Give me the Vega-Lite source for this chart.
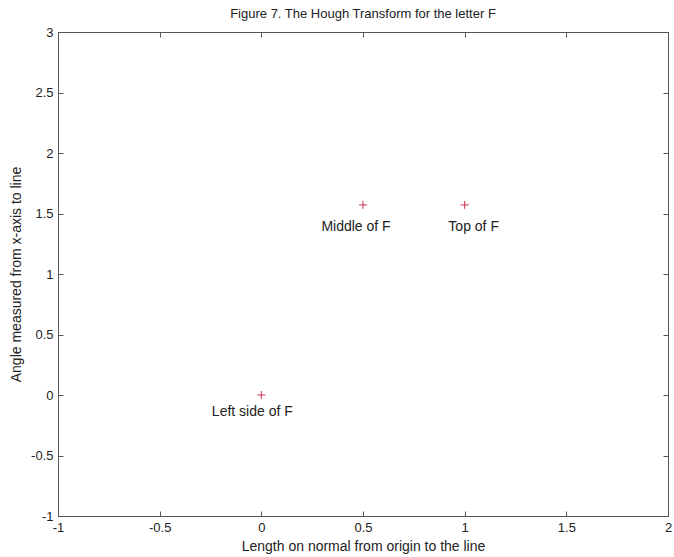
{
  "$schema": "https://vega.github.io/schema/vega-lite/v6.json",
  "width": 610,
  "height": 484,
  "autosize": {"type": "none"},
  "padding": {"left": 58, "top": 32, "right": 6, "bottom": 41},
  "background": "white",
  "title": {"text": "Figure 7.  The Hough Transform for the letter F", "font": "Liberation Sans", "fontSize": 13, "fontWeight": "normal", "color": "#222", "offset": 5},
  "config": {
    "view": {"stroke": "#555", "strokeWidth": 1},
    "axis": {"grid": false, "domainColor": "#555", "tickColor": "#555", "tickSize": -5, "labelFont": "Liberation Sans", "labelFontSize": 13, "labelColor": "#222", "titleFont": "Liberation Sans", "titleFontSize": 14, "titleFontWeight": "normal", "titleColor": "#222", "labelExpr": "replace(format(datum.value, '~g'), '\u2212', '-')"}
  },
  "data": {"values": [
    {"length": 0, "angle": 0, "label": "Left side of F"},
    {"length": 0.5, "angle": 1.5708, "label": "Middle of F"},
    {"length": 1, "angle": 1.5708, "label": "Top of F"}
  ]},
  "layer": [
    {
      "mark": {"type": "point", "shape": "M-1,0H1M0,-1V1", "size": 64, "filled": false, "stroke": "#d03050", "strokeWidth": 1, "opacity": 1},
      "encoding": {
        "x": {"field": "length", "type": "quantitative", "scale": {"domain": [-1, 2], "nice": false, "zero": false}, "axis": {"title": "Length on normal from origin to the line", "values": [-1, -0.5, 0, 0.5, 1, 1.5, 2], "labelPadding": 10, "titlePadding": 5, "labelFlush": false}},
        "y": {"field": "angle", "type": "quantitative", "scale": {"domain": [-1, 3], "nice": false, "zero": false}, "axis": {"title": "Angle measured from x-axis to line", "values": [-1, -0.5, 0, 0.5, 1, 1.5, 2, 2.5, 3], "labelPadding": 10, "titlePadding": 7, "labelFlush": false}}
      }
    },
    {
      "mark": {"type": "point", "opacity": 0},
      "encoding": {
        "x": {"field": "length", "type": "quantitative", "scale": {"domain": [-1, 2], "nice": false, "zero": false}, "axis": {"orient": "top", "title": null, "labels": false, "values": [-1, -0.5, 0, 0.5, 1, 1.5, 2]}},
        "y": {"field": "angle", "type": "quantitative", "scale": {"domain": [-1, 3], "nice": false, "zero": false}, "axis": {"orient": "right", "title": null, "labels": false, "values": [-1, -0.5, 0, 0.5, 1, 1.5, 2, 2.5, 3]}}
      }
    },
    {
      "transform": [{"filter": "datum.length == 0"}],
      "mark": {"type": "text", "font": "Liberation Sans", "fontSize": 14, "color": "#222", "dx": -9, "dy": 17},
      "encoding": {
        "x": {"field": "length", "type": "quantitative", "scale": {"domain": [-1, 2], "nice": false, "zero": false}, "axis": null},
        "y": {"field": "angle", "type": "quantitative", "scale": {"domain": [-1, 3], "nice": false, "zero": false}, "axis": null},
        "text": {"field": "label"}
      }
    },
    {
      "transform": [{"filter": "datum.length == 0.5"}],
      "mark": {"type": "text", "font": "Liberation Sans", "fontSize": 14, "color": "#222", "dx": -7, "dy": 22},
      "encoding": {
        "x": {"field": "length", "type": "quantitative", "scale": {"domain": [-1, 2], "nice": false, "zero": false}, "axis": null},
        "y": {"field": "angle", "type": "quantitative", "scale": {"domain": [-1, 3], "nice": false, "zero": false}, "axis": null},
        "text": {"field": "label"}
      }
    },
    {
      "transform": [{"filter": "datum.length == 1"}],
      "mark": {"type": "text", "font": "Liberation Sans", "fontSize": 14, "color": "#222", "dx": 9, "dy": 22},
      "encoding": {
        "x": {"field": "length", "type": "quantitative", "scale": {"domain": [-1, 2], "nice": false, "zero": false}, "axis": null},
        "y": {"field": "angle", "type": "quantitative", "scale": {"domain": [-1, 3], "nice": false, "zero": false}, "axis": null},
        "text": {"field": "label"}
      }
    }
  ],
  "resolve": {"scale": {"x": "independent", "y": "independent"}, "axis": {"x": "independent", "y": "independent"}}
}
